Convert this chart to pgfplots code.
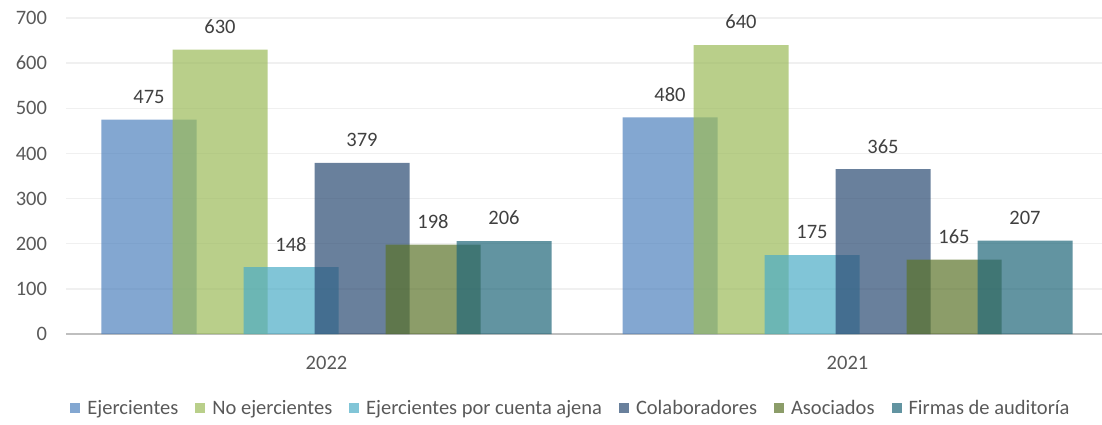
\documentclass[border=0pt]{standalone}
\usepackage{pgfplots}
\pgfplotsset{compat=1.18}
\usepackage{fontspec}
\setmainfont{Carlito}
\definecolor{cA}{RGB}{79,129,189}
\definecolor{cB}{RGB}{155,187,89}
\definecolor{cC}{RGB}{75,172,198}
\definecolor{cD}{RGB}{42,74,114}
\definecolor{cE}{RGB}{91,115,42}
\definecolor{cF}{RGB}{32,102,121}
\definecolor{lbl}{RGB}{89,89,89}
\definecolor{dlbl}{RGB}{64,64,64}
\definecolor{gridc}{RGB}{240,240,240}
\definecolor{axc}{RGB}{191,191,191}
\newcommand{\fs}{\fontsize{20.5pt}{24pt}\selectfont}
\begin{document}
\fs
\begin{tikzpicture}
\useasboundingbox (0,0) rectangle (1102pt,424pt);
\begin{axis}[
  at={(66pt,90pt)}, anchor=south west,
  scale only axis, width=1042pt, height=316pt,
  xmin=-0.5, xmax=1.5, ymin=0, ymax=700,
  ybar=-24pt, bar width=95pt,
  xtick={0,1}, xticklabels={2022,2021},
  ytick={0,100,...,700},
  ymajorgrids, major grid style={draw=gridc, line width=1.5pt},
  extra y ticks={0}, extra y tick labels={},
  extra y tick style={ymajorgrids, major grid style={draw=axc, line width=2.6pt}},
  axis line style={draw=none}, tick style={draw=none},
  /pgf/number format/assume math mode=true,
  tick label style={font=\fs, text=lbl},
  xticklabel style={yshift=-11pt},
  yticklabel style={xshift=-12pt},
  nodes near coords,
  every node near coord/.append style={font=\fs, text=dlbl, text opacity=1, yshift=9pt},
  legend columns=6,
  legend style={at={(0.4846,-0.237)}, anchor=center, draw=none, fill=none,
    font=\fs, text=lbl, column sep=5pt,
    /tikz/every even column/.append style={column sep=15pt}},
  legend image code/.code={\fill[#1] (0pt,-4pt) rectangle (10pt,6pt);},
]
\addplot[fill=cA, draw=none, fill opacity=0.7] coordinates {(0,475) (1,480)};
\addplot[fill=cB, draw=none, fill opacity=0.7] coordinates {(0,630) (1,640)};
\addplot[fill=cC, draw=none, fill opacity=0.7] coordinates {(0,148) (1,175)};
\addplot[fill=cD, draw=none, fill opacity=0.7] coordinates {(0,379) (1,365)};
\addplot[fill=cE, draw=none, fill opacity=0.7] coordinates {(0,198) (1,165)};
\addplot[fill=cF, draw=none, fill opacity=0.7] coordinates {(0,206) (1,207)};
\legend{Ejercientes, No ejercientes, Ejercientes por cuenta ajena, Colaboradores, Asociados, Firmas de auditoría}
\end{axis}
\end{tikzpicture}
\end{document}
